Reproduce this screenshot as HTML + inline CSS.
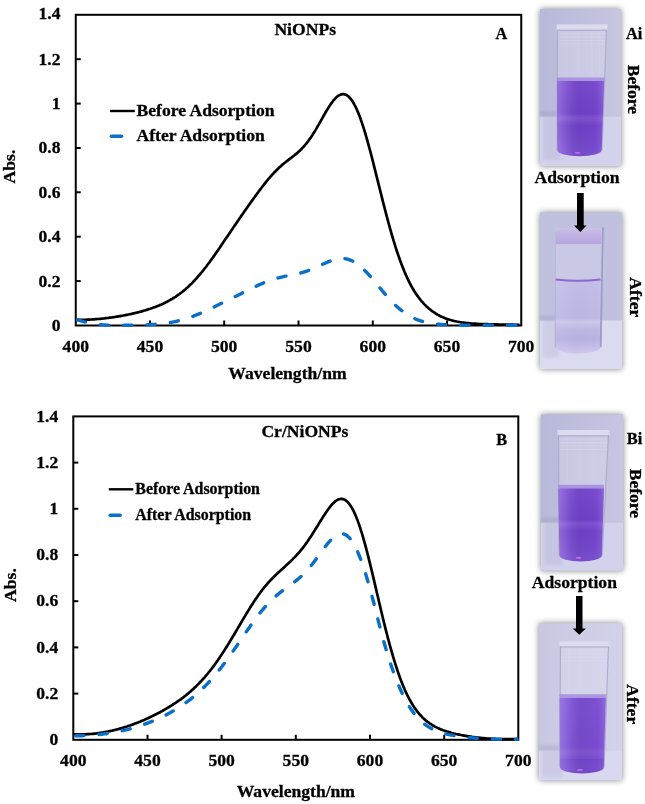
<!DOCTYPE html>
<html><head><meta charset="utf-8"><style>
html,body{margin:0;padding:0;background:#fff;width:645px;height:804px;overflow:hidden}
svg{display:block;will-change:transform}
text{font-family:"Liberation Serif",serif;font-weight:bold;fill:#000;stroke:#000;stroke-width:0.3px}
</style></head><body>
<svg width="645" height="804" viewBox="0 0 645 804">
<defs>
<filter id="sh" x="-30%" y="-30%" width="160%" height="160%"><feGaussianBlur stdDeviation="3"/></filter>
<linearGradient id="bandg" x1="0" x2="0" y1="0" y2="1"><stop offset="0" stop-color="#cabee8"/><stop offset="0.4" stop-color="#c0b2e2"/><stop offset="1" stop-color="#b6a6de"/></linearGradient>
<filter id="b1" x="-30%" y="-30%" width="160%" height="160%"><feGaussianBlur stdDeviation="1.5"/></filter>
<linearGradient id="lh" x1="0" x2="1" y1="0" y2="0"><stop offset="0" stop-color="#fff" stop-opacity="0.22"/><stop offset="0.2" stop-color="#fff" stop-opacity="0.08"/><stop offset="0.45" stop-color="#000" stop-opacity="0.05"/><stop offset="0.75" stop-color="#000" stop-opacity="0.02"/><stop offset="0.92" stop-color="#fff" stop-opacity="0.06"/><stop offset="1" stop-color="#fff" stop-opacity="0.15"/></linearGradient>
</defs>
<rect x="75.75" y="14.8" width="445.5" height="310.7" fill="none" stroke="#000" stroke-width="2"/>
<line x1="75.75" y1="281.1" x2="80.75" y2="281.1" stroke="#000" stroke-width="2"/>
<line x1="75.75" y1="236.7" x2="80.75" y2="236.7" stroke="#000" stroke-width="2"/>
<line x1="75.75" y1="192.3" x2="80.75" y2="192.3" stroke="#000" stroke-width="2"/>
<line x1="75.75" y1="148.0" x2="80.75" y2="148.0" stroke="#000" stroke-width="2"/>
<line x1="75.75" y1="103.6" x2="80.75" y2="103.6" stroke="#000" stroke-width="2"/>
<line x1="75.75" y1="59.2" x2="80.75" y2="59.2" stroke="#000" stroke-width="2"/>
<line x1="150.0" y1="325.5" x2="150.0" y2="320.5" stroke="#000" stroke-width="2"/>
<line x1="224.2" y1="325.5" x2="224.2" y2="320.5" stroke="#000" stroke-width="2"/>
<line x1="298.5" y1="325.5" x2="298.5" y2="320.5" stroke="#000" stroke-width="2"/>
<line x1="372.8" y1="325.5" x2="372.8" y2="320.5" stroke="#000" stroke-width="2"/>
<line x1="447.0" y1="325.5" x2="447.0" y2="320.5" stroke="#000" stroke-width="2"/>
<text x="60.5" y="331.0" text-anchor="end" font-size="17.6">0</text>
<text x="60.5" y="286.614" text-anchor="end" font-size="17.6">0.2</text>
<text x="60.5" y="242.228" text-anchor="end" font-size="17.6">0.4</text>
<text x="60.5" y="197.84199999999998" text-anchor="end" font-size="17.6">0.6</text>
<text x="60.5" y="153.456" text-anchor="end" font-size="17.6">0.8</text>
<text x="60.5" y="109.07" text-anchor="end" font-size="17.6">1</text>
<text x="60.5" y="64.68399999999997" text-anchor="end" font-size="17.6">1.2</text>
<text x="60.5" y="18.797999999999945" text-anchor="end" font-size="17.6">1.4</text>
<text x="75.8" y="351.5" text-anchor="middle" font-size="17.6">400</text>
<text x="150.0" y="351.5" text-anchor="middle" font-size="17.6">450</text>
<text x="224.2" y="351.5" text-anchor="middle" font-size="17.6">500</text>
<text x="298.5" y="351.5" text-anchor="middle" font-size="17.6">550</text>
<text x="372.8" y="351.5" text-anchor="middle" font-size="17.6">600</text>
<text x="447.0" y="351.5" text-anchor="middle" font-size="17.6">650</text>
<text x="521.2" y="351.5" text-anchor="middle" font-size="17.6">700</text>
<text x="287.5" y="379.2" text-anchor="middle" font-size="17.6">Wavelength/nm</text>
<text transform="translate(14.9,166.5) rotate(-90)" text-anchor="middle" font-size="17.6">Abs.</text>
<text x="305.2" y="35" text-anchor="middle" font-size="17.6">NiONPs</text>
<text x="501.3" y="39" text-anchor="middle" font-size="16.3">A</text>
<line x1="110" y1="111" x2="134.8" y2="111" stroke="#000" stroke-width="2.4"/>
<line x1="111.5" y1="136.3" x2="121.5" y2="136.3" stroke="#0a70c8" stroke-width="3.6" stroke-linecap="round"/>
<text x="136.5" y="116" font-size="17.6">Before Adsorption</text>
<text x="136.5" y="141" font-size="17.6">After Adsorption</text>
<polyline points="76.5,319.9 77.5,319.9 78.5,319.9 79.5,319.9 80.5,319.9 81.5,319.9 82.5,319.9 83.5,319.8 84.5,319.8 85.5,319.8 86.5,319.7 87.5,319.7 88.5,319.6 89.5,319.6 90.5,319.5 91.5,319.5 92.5,319.4 93.5,319.4 94.5,319.3 95.5,319.2 96.5,319.1 97.5,319.0 98.5,319.0 99.5,318.9 100.5,318.8 101.5,318.7 102.5,318.6 103.5,318.5 104.5,318.4 105.5,318.2 106.5,318.1 107.5,318.0 108.5,317.9 109.5,317.7 110.5,317.6 111.5,317.5 112.5,317.3 113.5,317.2 114.5,317.0 115.5,316.9 116.5,316.7 117.5,316.6 118.5,316.4 119.5,316.2 120.5,316.1 121.5,315.9 122.5,315.7 123.5,315.5 124.5,315.3 125.5,315.1 126.5,314.9 127.5,314.7 128.5,314.5 129.5,314.3 130.5,314.1 131.5,313.9 132.5,313.6 133.5,313.4 134.5,313.2 135.5,312.9 136.5,312.7 137.5,312.4 138.5,312.2 139.5,311.9 140.5,311.7 141.5,311.4 142.5,311.1 143.5,310.8 144.5,310.5 145.5,310.2 146.5,309.9 147.5,309.6 148.5,309.3 149.5,309.0 150.5,308.7 151.5,308.3 152.5,308.0 153.5,307.6 154.5,307.2 155.5,306.9 156.5,306.5 157.5,306.1 158.5,305.7 159.5,305.3 160.5,304.8 161.5,304.4 162.5,303.9 163.5,303.5 164.5,303.0 165.5,302.5 166.5,302.0 167.5,301.5 168.5,300.9 169.5,300.4 170.5,299.8 171.5,299.3 172.5,298.7 173.5,298.0 174.5,297.4 175.5,296.8 176.5,296.1 177.5,295.4 178.5,294.7 179.5,294.0 180.5,293.2 181.5,292.5 182.5,291.7 183.5,290.9 184.5,290.0 185.5,289.2 186.5,288.3 187.5,287.4 188.5,286.5 189.5,285.5 190.5,284.6 191.5,283.6 192.5,282.6 193.5,281.5 194.5,280.5 195.5,279.4 196.5,278.3 197.5,277.2 198.5,276.0 199.5,274.9 200.5,273.7 201.5,272.5 202.5,271.3 203.5,270.0 204.5,268.7 205.5,267.5 206.5,266.2 207.5,264.8 208.5,263.5 209.5,262.2 210.5,260.8 211.5,259.4 212.5,258.0 213.5,256.6 214.5,255.2 215.5,253.8 216.5,252.3 217.5,250.9 218.5,249.4 219.5,248.0 220.5,246.5 221.5,245.0 222.5,243.6 223.5,242.1 224.5,240.6 225.5,239.1 226.5,237.6 227.5,236.2 228.5,234.7 229.5,233.2 230.5,231.7 231.5,230.2 232.5,228.8 233.5,227.3 234.5,225.8 235.5,224.4 236.5,222.9 237.5,221.4 238.5,220.0 239.5,218.5 240.5,217.1 241.5,215.6 242.5,214.2 243.5,212.8 244.5,211.3 245.5,209.9 246.5,208.5 247.5,207.1 248.5,205.6 249.5,204.2 250.5,202.8 251.5,201.4 252.5,200.0 253.5,198.6 254.5,197.3 255.5,195.9 256.5,194.5 257.5,193.1 258.5,191.8 259.5,190.4 260.5,189.1 261.5,187.8 262.5,186.5 263.5,185.2 264.5,183.9 265.5,182.6 266.5,181.4 267.5,180.2 268.5,178.9 269.5,177.8 270.5,176.6 271.5,175.5 272.5,174.4 273.5,173.3 274.5,172.2 275.5,171.2 276.5,170.2 277.5,169.2 278.5,168.2 279.5,167.3 280.5,166.4 281.5,165.5 282.5,164.6 283.5,163.8 284.5,163.0 285.5,162.2 286.5,161.4 287.5,160.6 288.5,159.9 289.5,159.1 290.5,158.3 291.5,157.6 292.5,156.8 293.5,156.0 294.5,155.2 295.5,154.4 296.5,153.6 297.5,152.7 298.5,151.8 299.5,150.9 300.5,150.0 301.5,149.0 302.5,147.9 303.5,146.8 304.5,145.7 305.5,144.5 306.5,143.3 307.5,142.0 308.5,140.7 309.5,139.3 310.5,137.9 311.5,136.4 312.5,134.9 313.5,133.3 314.5,131.7 315.5,130.1 316.5,128.4 317.5,126.6 318.5,124.9 319.5,123.1 320.5,121.4 321.5,119.6 322.5,117.8 323.5,116.0 324.5,114.3 325.5,112.5 326.5,110.8 327.5,109.2 328.5,107.6 329.5,106.0 330.5,104.5 331.5,103.1 332.5,101.7 333.5,100.4 334.5,99.3 335.5,98.2 336.5,97.3 337.5,96.4 338.5,95.7 339.5,95.1 340.5,94.7 341.5,94.4 342.5,94.2 343.5,94.2 344.5,94.3 345.5,94.6 346.5,95.1 347.5,95.7 348.5,96.5 349.5,97.5 350.5,98.6 351.5,99.9 352.5,101.3 353.5,103.0 354.5,104.8 355.5,106.7 356.5,108.8 357.5,111.1 358.5,113.5 359.5,116.1 360.5,118.8 361.5,121.6 362.5,124.6 363.5,127.7 364.5,130.9 365.5,134.2 366.5,137.6 367.5,141.2 368.5,144.8 369.5,148.5 370.5,152.2 371.5,156.0 372.5,159.9 373.5,163.8 374.5,167.8 375.5,171.8 376.5,175.8 377.5,179.8 378.5,183.8 379.5,187.9 380.5,191.9 381.5,195.9 382.5,199.9 383.5,203.8 384.5,207.7 385.5,211.6 386.5,215.4 387.5,219.2 388.5,222.9 389.5,226.5 390.5,230.1 391.5,233.6 392.5,237.0 393.5,240.4 394.5,243.7 395.5,246.9 396.5,250.0 397.5,253.0 398.5,255.9 399.5,258.8 400.5,261.6 401.5,264.2 402.5,266.8 403.5,269.3 404.5,271.8 405.5,274.1 406.5,276.3 407.5,278.5 408.5,280.6 409.5,282.6 410.5,284.5 411.5,286.4 412.5,288.1 413.5,289.8 414.5,291.5 415.5,293.0 416.5,294.5 417.5,295.9 418.5,297.3 419.5,298.6 420.5,299.9 421.5,301.1 422.5,302.2 423.5,303.3 424.5,304.4 425.5,305.4 426.5,306.4 427.5,307.3 428.5,308.2 429.5,309.0 430.5,309.8 431.5,310.6 432.5,311.3 433.5,312.0 434.5,312.7 435.5,313.4 436.5,314.0 437.5,314.6 438.5,315.1 439.5,315.7 440.5,316.2 441.5,316.7 442.5,317.1 443.5,317.6 444.5,318.0 445.5,318.4 446.5,318.7 447.5,319.1 448.5,319.4 449.5,319.7 450.5,320.0 451.5,320.3 452.5,320.6 453.5,320.8 454.5,321.1 455.5,321.3 456.5,321.5 457.5,321.7 458.5,321.9 459.5,322.0 460.5,322.2 461.5,322.4 462.5,322.5 463.5,322.6 464.5,322.8 465.5,322.9 466.5,323.0 467.5,323.1 468.5,323.2 469.5,323.3 470.5,323.4 471.5,323.5 472.5,323.5 473.5,323.6 474.5,323.7 475.5,323.7 476.5,323.8 477.5,323.9 478.5,323.9 479.5,324.0 480.5,324.0 481.5,324.0 482.5,324.1 483.5,324.1 484.5,324.2 485.5,324.2 486.5,324.2 487.5,324.2 488.5,324.3 489.5,324.3 490.5,324.3 491.5,324.3 492.5,324.4 493.5,324.4 494.5,324.4 495.5,324.4 496.5,324.4 497.5,324.4 498.5,324.5 499.5,324.5 500.5,324.5 501.5,324.5 502.5,324.5 503.5,324.5 504.5,324.6 505.5,324.6 506.5,324.6 507.5,324.6 508.5,324.6 509.5,324.6 510.5,324.7 511.5,324.7 512.5,324.7 513.5,324.7 514.5,324.8 515.5,324.8 516.5,324.8 517.5,324.9 518.5,324.9 519.5,324.9" fill="none" stroke="#000" stroke-width="2.7"/>
<polyline points="76.5,319.6 77.5,319.8 78.5,320.1 79.5,320.4 80.5,320.7 81.5,321.0 82.5,321.3 83.5,321.6 84.5,321.8 85.5,322.1 86.5,322.4 87.5,322.6 88.5,322.9 89.5,323.1 90.5,323.3 91.5,323.5 92.5,323.7 93.5,323.9 94.5,324.0 95.5,324.2 96.5,324.3 97.5,324.4 98.5,324.5 99.5,324.6 100.5,324.7 101.5,324.8 102.5,324.9 103.5,324.9 104.5,325.0 105.5,325.0 106.5,325.1 107.5,325.1 108.5,325.1 109.5,325.1 110.5,325.2 111.5,325.2 112.5,325.2 113.5,325.2 114.5,325.2 115.5,325.2 116.5,325.2 117.5,325.2 118.5,325.2 119.5,325.2 120.5,325.2 121.5,325.2 122.5,325.2 123.5,325.2 124.5,325.2 125.5,325.2 126.5,325.2 127.5,325.2 128.5,325.2 129.5,325.2 130.5,325.2 131.5,325.2 132.5,325.1 133.5,325.1 134.5,325.1 135.5,325.1 136.5,325.1 137.5,325.1 138.5,325.0 139.5,325.0 140.5,325.0 141.5,325.0 142.5,324.9 143.5,324.9 144.5,324.9 145.5,324.8 146.5,324.8 147.5,324.8 148.5,324.7 149.5,324.7 150.5,324.6 151.5,324.5 152.5,324.5 153.5,324.4 154.5,324.4 155.5,324.3 156.5,324.2 157.5,324.1 158.5,324.0 159.5,323.9 160.5,323.8 161.5,323.7 162.5,323.6 163.5,323.5 164.5,323.4 165.5,323.2 166.5,323.1 167.5,322.9 168.5,322.8 169.5,322.6 170.5,322.5 171.5,322.3 172.5,322.1 173.5,321.9 174.5,321.7 175.5,321.5 176.5,321.3 177.5,321.0 178.5,320.8 179.5,320.5 180.5,320.3 181.5,320.0 182.5,319.7 183.5,319.4 184.5,319.1 185.5,318.8 186.5,318.5 187.5,318.2 188.5,317.9 189.5,317.5 190.5,317.2 191.5,316.8 192.5,316.4 193.5,316.1 194.5,315.7 195.5,315.3 196.5,314.9 197.5,314.5 198.5,314.1 199.5,313.7 200.5,313.2 201.5,312.8 202.5,312.4 203.5,311.9 204.5,311.5 205.5,311.0 206.5,310.6 207.5,310.1 208.5,309.6 209.5,309.2 210.5,308.7 211.5,308.2 212.5,307.7 213.5,307.3 214.5,306.8 215.5,306.3 216.5,305.8 217.5,305.3 218.5,304.8 219.5,304.3 220.5,303.8 221.5,303.3 222.5,302.9 223.5,302.4 224.5,301.9 225.5,301.4 226.5,300.9 227.5,300.4 228.5,299.9 229.5,299.4 230.5,298.9 231.5,298.4 232.5,297.9 233.5,297.4 234.5,296.9 235.5,296.4 236.5,295.9 237.5,295.4 238.5,294.9 239.5,294.4 240.5,293.9 241.5,293.4 242.5,292.9 243.5,292.4 244.5,291.9 245.5,291.4 246.5,290.9 247.5,290.4 248.5,289.9 249.5,289.4 250.5,288.9 251.5,288.4 252.5,287.9 253.5,287.5 254.5,287.0 255.5,286.5 256.5,286.0 257.5,285.6 258.5,285.1 259.5,284.7 260.5,284.2 261.5,283.8 262.5,283.4 263.5,282.9 264.5,282.5 265.5,282.1 266.5,281.7 267.5,281.4 268.5,281.0 269.5,280.6 270.5,280.3 271.5,279.9 272.5,279.6 273.5,279.3 274.5,279.0 275.5,278.7 276.5,278.4 277.5,278.1 278.5,277.8 279.5,277.6 280.5,277.3 281.5,277.1 282.5,276.9 283.5,276.6 284.5,276.4 285.5,276.2 286.5,276.0 287.5,275.8 288.5,275.6 289.5,275.4 290.5,275.2 291.5,275.0 292.5,274.8 293.5,274.6 294.5,274.4 295.5,274.1 296.5,273.9 297.5,273.7 298.5,273.5 299.5,273.2 300.5,273.0 301.5,272.7 302.5,272.4 303.5,272.1 304.5,271.8 305.5,271.5 306.5,271.2 307.5,270.8 308.5,270.5 309.5,270.1 310.5,269.7 311.5,269.3 312.5,268.9 313.5,268.5 314.5,268.1 315.5,267.6 316.5,267.2 317.5,266.7 318.5,266.3 319.5,265.8 320.5,265.3 321.5,264.9 322.5,264.4 323.5,263.9 324.5,263.5 325.5,263.0 326.5,262.6 327.5,262.1 328.5,261.7 329.5,261.3 330.5,260.9 331.5,260.6 332.5,260.2 333.5,259.9 334.5,259.6 335.5,259.4 336.5,259.1 337.5,258.9 338.5,258.8 339.5,258.6 340.5,258.6 341.5,258.5 342.5,258.5 343.5,258.6 344.5,258.6 345.5,258.8 346.5,259.0 347.5,259.2 348.5,259.5 349.5,259.8 350.5,260.2 351.5,260.6 352.5,261.0 353.5,261.6 354.5,262.1 355.5,262.7 356.5,263.4 357.5,264.1 358.5,264.8 359.5,265.6 360.5,266.5 361.5,267.3 362.5,268.2 363.5,269.2 364.5,270.2 365.5,271.2 366.5,272.2 367.5,273.3 368.5,274.4 369.5,275.5 370.5,276.6 371.5,277.8 372.5,279.0 373.5,280.2 374.5,281.3 375.5,282.6 376.5,283.8 377.5,285.0 378.5,286.2 379.5,287.4 380.5,288.6 381.5,289.8 382.5,291.0 383.5,292.2 384.5,293.4 385.5,294.6 386.5,295.8 387.5,296.9 388.5,298.0 389.5,299.1 390.5,300.2 391.5,301.3 392.5,302.3 393.5,303.3 394.5,304.3 395.5,305.3 396.5,306.2 397.5,307.1 398.5,308.0 399.5,308.9 400.5,309.7 401.5,310.5 402.5,311.3 403.5,312.0 404.5,312.8 405.5,313.5 406.5,314.1 407.5,314.8 408.5,315.4 409.5,316.0 410.5,316.5 411.5,317.1 412.5,317.6 413.5,318.1 414.5,318.5 415.5,319.0 416.5,319.4 417.5,319.8 418.5,320.1 419.5,320.5 420.5,320.8 421.5,321.1 422.5,321.4 423.5,321.7 424.5,322.0 425.5,322.2 426.5,322.4 427.5,322.7 428.5,322.9 429.5,323.0 430.5,323.2 431.5,323.4 432.5,323.5 433.5,323.7 434.5,323.8 435.5,323.9 436.5,324.0 437.5,324.1 438.5,324.2 439.5,324.3 440.5,324.4 441.5,324.5 442.5,324.6 443.5,324.6 444.5,324.7 445.5,324.7 446.5,324.8 447.5,324.8 448.5,324.9 449.5,324.9 450.5,324.9 451.5,325.0 452.5,325.0 453.5,325.0 454.5,325.1 455.5,325.1 456.5,325.1 457.5,325.1 458.5,325.1 459.5,325.1 460.5,325.2 461.5,325.2 462.5,325.2 463.5,325.2 464.5,325.2 465.5,325.2 466.5,325.2 467.5,325.2 468.5,325.2 469.5,325.2 470.5,325.2 471.5,325.2 472.5,325.2 473.5,325.2 474.5,325.2 475.5,325.2 476.5,325.2 477.5,325.2 478.5,325.2 479.5,325.2 480.5,325.2 481.5,325.2 482.5,325.2 483.5,325.2 484.5,325.2 485.5,325.2 486.5,325.2 487.5,325.2 488.5,325.2 489.5,325.2 490.5,325.2 491.5,325.2 492.5,325.2 493.5,325.2 494.5,325.2 495.5,325.2 496.5,325.2 497.5,325.2 498.5,325.2 499.5,325.2 500.5,325.2 501.5,325.2 502.5,325.2 503.5,325.2 504.5,325.2 505.5,325.2 506.5,325.2 507.5,325.2 508.5,325.2 509.5,325.2 510.5,325.2 511.5,325.2 512.5,325.2 513.5,325.2 514.5,325.2 515.5,325.2 516.5,325.2 517.5,325.2 518.5,325.2 519.5,325.2" fill="none" stroke="#0a6fc9" stroke-width="3.4" stroke-dasharray="8.2 15.2" stroke-dashoffset="-1" stroke-linecap="round"/>
<rect x="73.3" y="416.4" width="444.99999999999994" height="323.4" fill="none" stroke="#000" stroke-width="2"/>
<line x1="73.3" y1="693.6" x2="78.3" y2="693.6" stroke="#000" stroke-width="2"/>
<line x1="73.3" y1="647.4" x2="78.3" y2="647.4" stroke="#000" stroke-width="2"/>
<line x1="73.3" y1="601.2" x2="78.3" y2="601.2" stroke="#000" stroke-width="2"/>
<line x1="73.3" y1="555.0" x2="78.3" y2="555.0" stroke="#000" stroke-width="2"/>
<line x1="73.3" y1="508.8" x2="78.3" y2="508.8" stroke="#000" stroke-width="2"/>
<line x1="73.3" y1="462.6" x2="78.3" y2="462.6" stroke="#000" stroke-width="2"/>
<line x1="147.5" y1="739.8" x2="147.5" y2="734.8" stroke="#000" stroke-width="2"/>
<line x1="221.6" y1="739.8" x2="221.6" y2="734.8" stroke="#000" stroke-width="2"/>
<line x1="295.8" y1="739.8" x2="295.8" y2="734.8" stroke="#000" stroke-width="2"/>
<line x1="370.0" y1="739.8" x2="370.0" y2="734.8" stroke="#000" stroke-width="2"/>
<line x1="444.2" y1="739.8" x2="444.2" y2="734.8" stroke="#000" stroke-width="2"/>
<text x="58.3" y="744.9999999999999" text-anchor="end" font-size="17.6">0</text>
<text x="58.3" y="698.7999999999998" text-anchor="end" font-size="17.6">0.2</text>
<text x="58.3" y="652.5999999999999" text-anchor="end" font-size="17.6">0.4</text>
<text x="58.3" y="606.3999999999999" text-anchor="end" font-size="17.6">0.6</text>
<text x="58.3" y="560.1999999999999" text-anchor="end" font-size="17.6">0.8</text>
<text x="58.3" y="513.9999999999999" text-anchor="end" font-size="17.6">1</text>
<text x="58.3" y="467.7999999999999" text-anchor="end" font-size="17.6">1.2</text>
<text x="58.3" y="421.5999999999999" text-anchor="end" font-size="17.6">1.4</text>
<text x="73.3" y="766.3" text-anchor="middle" font-size="17.6">400</text>
<text x="147.5" y="766.3" text-anchor="middle" font-size="17.6">450</text>
<text x="221.6" y="766.3" text-anchor="middle" font-size="17.6">500</text>
<text x="295.8" y="766.3" text-anchor="middle" font-size="17.6">550</text>
<text x="370.0" y="766.3" text-anchor="middle" font-size="17.6">600</text>
<text x="444.2" y="766.3" text-anchor="middle" font-size="17.6">650</text>
<text x="518.3" y="766.3" text-anchor="middle" font-size="17.6">700</text>
<text x="295.9" y="797.3" text-anchor="middle" font-size="17.6">Wavelength/nm</text>
<text transform="translate(16.4,585) rotate(-90)" text-anchor="middle" font-size="17.6">Abs.</text>
<text x="304.9" y="437.4" text-anchor="middle" font-size="17.6">Cr/NiONPs</text>
<text x="501.6" y="444.9" text-anchor="middle" font-size="16.3">B</text>
<line x1="108.8" y1="489.3" x2="133.3" y2="489.3" stroke="#000" stroke-width="2.4"/>
<line x1="110.2" y1="515.2" x2="120.2" y2="515.2" stroke="#0a70c8" stroke-width="3.4" stroke-linecap="round"/>
<text x="135.3" y="494.1" font-size="15.9">Before Adsorption</text>
<text x="135.3" y="520.1" font-size="15.9">After Adsorption</text>
<polyline points="74.0,734.3 75.0,734.3 76.0,734.4 77.0,734.4 78.0,734.4 79.0,734.4 80.0,734.4 81.0,734.4 82.0,734.4 83.0,734.4 84.0,734.4 85.0,734.3 86.0,734.3 87.0,734.2 88.0,734.2 89.0,734.1 90.0,734.0 91.0,734.0 92.0,733.9 93.0,733.8 94.0,733.7 95.0,733.6 96.0,733.5 97.0,733.3 98.0,733.2 99.0,733.1 100.0,732.9 101.0,732.8 102.0,732.6 103.0,732.5 104.0,732.3 105.0,732.1 106.0,731.9 107.0,731.7 108.0,731.5 109.0,731.3 110.0,731.1 111.0,730.9 112.0,730.7 113.0,730.4 114.0,730.2 115.0,729.9 116.0,729.7 117.0,729.4 118.0,729.2 119.0,728.9 120.0,728.6 121.0,728.3 122.0,728.0 123.0,727.7 124.0,727.4 125.0,727.1 126.0,726.8 127.0,726.5 128.0,726.1 129.0,725.8 130.0,725.5 131.0,725.1 132.0,724.7 133.0,724.4 134.0,724.0 135.0,723.6 136.0,723.2 137.0,722.9 138.0,722.5 139.0,722.1 140.0,721.7 141.0,721.2 142.0,720.8 143.0,720.4 144.0,720.0 145.0,719.5 146.0,719.1 147.0,718.6 148.0,718.2 149.0,717.7 150.0,717.2 151.0,716.7 152.0,716.3 153.0,715.8 154.0,715.3 155.0,714.8 156.0,714.3 157.0,713.7 158.0,713.2 159.0,712.7 160.0,712.2 161.0,711.6 162.0,711.1 163.0,710.5 164.0,710.0 165.0,709.4 166.0,708.8 167.0,708.2 168.0,707.6 169.0,707.0 170.0,706.4 171.0,705.8 172.0,705.2 173.0,704.5 174.0,703.9 175.0,703.2 176.0,702.6 177.0,701.9 178.0,701.2 179.0,700.5 180.0,699.8 181.0,699.1 182.0,698.3 183.0,697.6 184.0,696.8 185.0,696.0 186.0,695.2 187.0,694.4 188.0,693.6 189.0,692.7 190.0,691.9 191.0,691.0 192.0,690.1 193.0,689.2 194.0,688.3 195.0,687.3 196.0,686.4 197.0,685.4 198.0,684.4 199.0,683.4 200.0,682.3 201.0,681.3 202.0,680.2 203.0,679.1 204.0,678.0 205.0,676.8 206.0,675.7 207.0,674.5 208.0,673.3 209.0,672.0 210.0,670.8 211.0,669.5 212.0,668.2 213.0,666.9 214.0,665.6 215.0,664.2 216.0,662.8 217.0,661.4 218.0,660.0 219.0,658.5 220.0,657.0 221.0,655.6 222.0,654.0 223.0,652.5 224.0,651.0 225.0,649.4 226.0,647.8 227.0,646.2 228.0,644.6 229.0,643.0 230.0,641.3 231.0,639.7 232.0,638.0 233.0,636.3 234.0,634.7 235.0,633.0 236.0,631.3 237.0,629.6 238.0,627.9 239.0,626.2 240.0,624.5 241.0,622.8 242.0,621.1 243.0,619.4 244.0,617.7 245.0,616.1 246.0,614.4 247.0,612.7 248.0,611.1 249.0,609.5 250.0,607.9 251.0,606.3 252.0,604.7 253.0,603.2 254.0,601.6 255.0,600.1 256.0,598.6 257.0,597.2 258.0,595.7 259.0,594.3 260.0,593.0 261.0,591.6 262.0,590.3 263.0,589.0 264.0,587.7 265.0,586.5 266.0,585.3 267.0,584.1 268.0,583.0 269.0,581.9 270.0,580.8 271.0,579.7 272.0,578.7 273.0,577.7 274.0,576.7 275.0,575.7 276.0,574.7 277.0,573.8 278.0,572.8 279.0,571.9 280.0,571.0 281.0,570.1 282.0,569.2 283.0,568.3 284.0,567.4 285.0,566.5 286.0,565.6 287.0,564.6 288.0,563.7 289.0,562.8 290.0,561.8 291.0,560.9 292.0,559.9 293.0,558.9 294.0,557.9 295.0,556.9 296.0,555.8 297.0,554.7 298.0,553.6 299.0,552.5 300.0,551.3 301.0,550.1 302.0,548.9 303.0,547.6 304.0,546.3 305.0,545.0 306.0,543.6 307.0,542.2 308.0,540.8 309.0,539.3 310.0,537.8 311.0,536.3 312.0,534.7 313.0,533.1 314.0,531.6 315.0,529.9 316.0,528.3 317.0,526.7 318.0,525.1 319.0,523.4 320.0,521.8 321.0,520.2 322.0,518.6 323.0,517.0 324.0,515.4 325.0,513.9 326.0,512.4 327.0,510.9 328.0,509.5 329.0,508.2 330.0,506.9 331.0,505.6 332.0,504.5 333.0,503.4 334.0,502.5 335.0,501.6 336.0,500.8 337.0,500.2 338.0,499.6 339.0,499.3 340.0,499.0 341.0,498.9 342.0,498.9 343.0,499.1 344.0,499.4 345.0,499.9 346.0,500.6 347.0,501.4 348.0,502.4 349.0,503.5 350.0,504.9 351.0,506.4 352.0,508.0 353.0,509.9 354.0,511.9 355.0,514.1 356.0,516.4 357.0,518.9 358.0,521.6 359.0,524.4 360.0,527.4 361.0,530.5 362.0,533.7 363.0,537.1 364.0,540.6 365.0,544.2 366.0,547.9 367.0,551.7 368.0,555.6 369.0,559.6 370.0,563.6 371.0,567.7 372.0,571.9 373.0,576.1 374.0,580.3 375.0,584.6 376.0,588.9 377.0,593.2 378.0,597.4 379.0,601.7 380.0,605.9 381.0,610.2 382.0,614.3 383.0,618.5 384.0,622.6 385.0,626.6 386.0,630.6 387.0,634.5 388.0,638.3 389.0,642.1 390.0,645.8 391.0,649.4 392.0,652.9 393.0,656.4 394.0,659.7 395.0,662.9 396.0,666.1 397.0,669.2 398.0,672.1 399.0,675.0 400.0,677.8 401.0,680.4 402.0,683.0 403.0,685.5 404.0,687.9 405.0,690.2 406.0,692.4 407.0,694.5 408.0,696.5 409.0,698.4 410.0,700.3 411.0,702.0 412.0,703.7 413.0,705.4 414.0,706.9 415.0,708.4 416.0,709.8 417.0,711.1 418.0,712.4 419.0,713.6 420.0,714.8 421.0,715.8 422.0,716.9 423.0,717.9 424.0,718.8 425.0,719.7 426.0,720.6 427.0,721.4 428.0,722.2 429.0,722.9 430.0,723.6 431.0,724.2 432.0,724.9 433.0,725.5 434.0,726.0 435.0,726.6 436.0,727.1 437.0,727.6 438.0,728.1 439.0,728.5 440.0,729.0 441.0,729.4 442.0,729.8 443.0,730.2 444.0,730.5 445.0,730.9 446.0,731.2 447.0,731.5 448.0,731.8 449.0,732.1 450.0,732.4 451.0,732.7 452.0,733.0 453.0,733.2 454.0,733.5 455.0,733.7 456.0,734.0 457.0,734.2 458.0,734.4 459.0,734.6 460.0,734.8 461.0,735.0 462.0,735.2 463.0,735.4 464.0,735.6 465.0,735.8 466.0,735.9 467.0,736.1 468.0,736.3 469.0,736.4 470.0,736.6 471.0,736.7 472.0,736.9 473.0,737.0 474.0,737.1 475.0,737.3 476.0,737.4 477.0,737.5 478.0,737.6 479.0,737.7 480.0,737.8 481.0,737.9 482.0,738.0 483.0,738.1 484.0,738.2 485.0,738.3 486.0,738.4 487.0,738.5 488.0,738.5 489.0,738.6 490.0,738.7 491.0,738.7 492.0,738.8 493.0,738.8 494.0,738.9 495.0,738.9 496.0,739.0 497.0,739.0 498.0,739.0 499.0,739.1 500.0,739.1 501.0,739.1 502.0,739.1 503.0,739.1 504.0,739.2 505.0,739.2 506.0,739.2 507.0,739.2 508.0,739.2 509.0,739.2 510.0,739.1 511.0,739.1 512.0,739.1 513.0,739.1 514.0,739.0 515.0,739.0 516.0,739.0 517.0,738.9" fill="none" stroke="#000" stroke-width="2.7"/>
<polyline points="74.0,735.8 75.0,735.8 76.0,735.8 77.0,735.7 78.0,735.7 79.0,735.7 80.0,735.7 81.0,735.7 82.0,735.7 83.0,735.6 84.0,735.6 85.0,735.5 86.0,735.5 87.0,735.4 88.0,735.4 89.0,735.3 90.0,735.3 91.0,735.2 92.0,735.1 93.0,735.1 94.0,735.0 95.0,734.9 96.0,734.8 97.0,734.7 98.0,734.6 99.0,734.5 100.0,734.4 101.0,734.3 102.0,734.2 103.0,734.1 104.0,733.9 105.0,733.8 106.0,733.7 107.0,733.5 108.0,733.4 109.0,733.2 110.0,733.1 111.0,732.9 112.0,732.7 113.0,732.6 114.0,732.4 115.0,732.2 116.0,732.0 117.0,731.8 118.0,731.6 119.0,731.4 120.0,731.2 121.0,731.0 122.0,730.8 123.0,730.5 124.0,730.3 125.0,730.1 126.0,729.8 127.0,729.6 128.0,729.3 129.0,729.1 130.0,728.8 131.0,728.5 132.0,728.2 133.0,728.0 134.0,727.7 135.0,727.4 136.0,727.1 137.0,726.8 138.0,726.4 139.0,726.1 140.0,725.8 141.0,725.5 142.0,725.1 143.0,724.8 144.0,724.4 145.0,724.1 146.0,723.7 147.0,723.3 148.0,722.9 149.0,722.6 150.0,722.2 151.0,721.8 152.0,721.4 153.0,720.9 154.0,720.5 155.0,720.1 156.0,719.7 157.0,719.2 158.0,718.8 159.0,718.3 160.0,717.9 161.0,717.4 162.0,716.9 163.0,716.4 164.0,715.9 165.0,715.4 166.0,714.9 167.0,714.4 168.0,713.8 169.0,713.3 170.0,712.8 171.0,712.2 172.0,711.6 173.0,711.1 174.0,710.5 175.0,709.9 176.0,709.3 177.0,708.7 178.0,708.0 179.0,707.4 180.0,706.7 181.0,706.1 182.0,705.4 183.0,704.7 184.0,704.0 185.0,703.3 186.0,702.6 187.0,701.9 188.0,701.1 189.0,700.4 190.0,699.6 191.0,698.8 192.0,698.0 193.0,697.2 194.0,696.4 195.0,695.5 196.0,694.7 197.0,693.8 198.0,692.9 199.0,692.0 200.0,691.1 201.0,690.1 202.0,689.2 203.0,688.2 204.0,687.2 205.0,686.2 206.0,685.2 207.0,684.1 208.0,683.1 209.0,682.0 210.0,680.9 211.0,679.8 212.0,678.7 213.0,677.5 214.0,676.4 215.0,675.2 216.0,674.0 217.0,672.8 218.0,671.5 219.0,670.3 220.0,669.0 221.0,667.8 222.0,666.5 223.0,665.1 224.0,663.8 225.0,662.5 226.0,661.1 227.0,659.8 228.0,658.4 229.0,657.0 230.0,655.6 231.0,654.2 232.0,652.7 233.0,651.3 234.0,649.9 235.0,648.4 236.0,646.9 237.0,645.5 238.0,644.0 239.0,642.5 240.0,641.1 241.0,639.6 242.0,638.1 243.0,636.6 244.0,635.2 245.0,633.7 246.0,632.2 247.0,630.8 248.0,629.3 249.0,627.9 250.0,626.5 251.0,625.0 252.0,623.6 253.0,622.2 254.0,620.8 255.0,619.5 256.0,618.1 257.0,616.8 258.0,615.5 259.0,614.2 260.0,612.9 261.0,611.7 262.0,610.5 263.0,609.3 264.0,608.1 265.0,607.0 266.0,605.8 267.0,604.7 268.0,603.7 269.0,602.6 270.0,601.6 271.0,600.6 272.0,599.6 273.0,598.7 274.0,597.8 275.0,596.9 276.0,596.0 277.0,595.1 278.0,594.3 279.0,593.5 280.0,592.7 281.0,591.9 282.0,591.1 283.0,590.4 284.0,589.6 285.0,588.9 286.0,588.2 287.0,587.4 288.0,586.7 289.0,586.0 290.0,585.3 291.0,584.5 292.0,583.8 293.0,583.0 294.0,582.3 295.0,581.5 296.0,580.7 297.0,579.9 298.0,579.1 299.0,578.2 300.0,577.4 301.0,576.5 302.0,575.5 303.0,574.6 304.0,573.6 305.0,572.5 306.0,571.5 307.0,570.4 308.0,569.3 309.0,568.1 310.0,566.9 311.0,565.7 312.0,564.5 313.0,563.2 314.0,561.9 315.0,560.6 316.0,559.3 317.0,557.9 318.0,556.5 319.0,555.2 320.0,553.8 321.0,552.4 322.0,551.0 323.0,549.6 324.0,548.3 325.0,547.0 326.0,545.7 327.0,544.4 328.0,543.2 329.0,542.0 330.0,540.9 331.0,539.8 332.0,538.8 333.0,537.9 334.0,537.0 335.0,536.2 336.0,535.6 337.0,535.0 338.0,534.5 339.0,534.1 340.0,533.9 341.0,533.8 342.0,533.7 343.0,533.9 344.0,534.1 345.0,534.5 346.0,535.0 347.0,535.7 348.0,536.5 349.0,537.4 350.0,538.5 351.0,539.8 352.0,541.2 353.0,542.7 354.0,544.4 355.0,546.3 356.0,548.2 357.0,550.4 358.0,552.6 359.0,555.0 360.0,557.5 361.0,560.2 362.0,563.0 363.0,565.9 364.0,568.8 365.0,571.9 366.0,575.1 367.0,578.4 368.0,581.8 369.0,585.3 370.0,588.8 371.0,592.4 372.0,596.2 373.0,600.0 374.0,603.8 375.0,607.8 376.0,611.7 377.0,615.7 378.0,619.7 379.0,623.6 380.0,627.5 381.0,631.3 382.0,635.0 383.0,638.7 384.0,642.3 385.0,645.8 386.0,649.2 387.0,652.6 388.0,655.8 389.0,659.0 390.0,662.1 391.0,665.1 392.0,668.0 393.0,670.8 394.0,673.6 395.0,676.3 396.0,678.9 397.0,681.4 398.0,683.8 399.0,686.2 400.0,688.5 401.0,690.8 402.0,692.9 403.0,695.0 404.0,697.0 405.0,699.0 406.0,700.9 407.0,702.7 408.0,704.4 409.0,706.1 410.0,707.7 411.0,709.2 412.0,710.6 413.0,712.0 414.0,713.4 415.0,714.7 416.0,715.9 417.0,717.0 418.0,718.1 419.0,719.2 420.0,720.2 421.0,721.1 422.0,722.0 423.0,722.9 424.0,723.7 425.0,724.5 426.0,725.2 427.0,725.9 428.0,726.5 429.0,727.1 430.0,727.7 431.0,728.3 432.0,728.8 433.0,729.3 434.0,729.8 435.0,730.2 436.0,730.6 437.0,731.0 438.0,731.4 439.0,731.8 440.0,732.1 441.0,732.5 442.0,732.8 443.0,733.1 444.0,733.4 445.0,733.6 446.0,733.9 447.0,734.1 448.0,734.4 449.0,734.6 450.0,734.8 451.0,735.0 452.0,735.2 453.0,735.4 454.0,735.6 455.0,735.8 456.0,735.9 457.0,736.1 458.0,736.2 459.0,736.4 460.0,736.5 461.0,736.7 462.0,736.8 463.0,736.9 464.0,737.1 465.0,737.2 466.0,737.3 467.0,737.4 468.0,737.5 469.0,737.6 470.0,737.7 471.0,737.8 472.0,737.9 473.0,737.9 474.0,738.0 475.0,738.1 476.0,738.2 477.0,738.2 478.0,738.3 479.0,738.4 480.0,738.4 481.0,738.5 482.0,738.6 483.0,738.6 484.0,738.7 485.0,738.7 486.0,738.8 487.0,738.8 488.0,738.8 489.0,738.9 490.0,738.9 491.0,738.9 492.0,739.0 493.0,739.0 494.0,739.0 495.0,739.0 496.0,739.1 497.0,739.1 498.0,739.1 499.0,739.1 500.0,739.1 501.0,739.2 502.0,739.2 503.0,739.2 504.0,739.2 505.0,739.2 506.0,739.2 507.0,739.2 508.0,739.2 509.0,739.2 510.0,739.2 511.0,739.2 512.0,739.2 513.0,739.2 514.0,739.2 515.0,739.2 516.0,739.2 517.0,739.2" fill="none" stroke="#0a6fc9" stroke-width="3.4" stroke-dasharray="8.2 15.2" stroke-dashoffset="-1.8" stroke-linecap="round"/>
<rect x="540" y="9" width="81" height="157" fill="#000" opacity="0.5" filter="url(#sh)"/>
<rect x="540" y="9" width="81" height="157" fill="#b8b8da"/>
<linearGradient id="wg1" x1="0" x2="1" y1="0" y2="0"><stop offset="0" stop-color="#c6c6e2" stop-opacity="0"/><stop offset="1" stop-color="#c6c6e2" stop-opacity="1"/></linearGradient>
<rect x="540" y="9" width="81" height="107.5" fill="url(#wg1)"/>
<rect x="540" y="116.5" width="81" height="49.5" fill="#d2d2ec"/>
<rect x="540" y="111.5" width="17.299999999999955" height="5" fill="#9090b8" opacity="0.3" filter="url(#b1)"/>
<rect x="543" y="116.5" width="17.299999999999955" height="43.80000000000001" fill="#9a9ac0" opacity="0.2" filter="url(#b1)"/>
<path d="M557.5,28.5 H606.5 L602.2,150.3 A22.200000000000045,6 0 0 1 556.8,150.3 Z" fill="#dcdbee" opacity="0.4"/>
<path d="M557.5,28.5 L557.0,150.3" stroke="#a8a6c8" stroke-width="1.2" opacity="0.8"/>
<path d="M606.5,28.5 L602.0,150.3" stroke="#a8a6c8" stroke-width="1.2" opacity="0.8"/>
<rect x="556.5" y="24.5" width="51.0" height="5.2" fill="#dcdcf0"/>
<rect x="557.5" y="29.7" width="49.0" height="1.2" fill="#a4a2c4" opacity="0.7"/>
<line x1="559.5" y1="33.5" x2="604.5" y2="33.5" stroke="#e4e2f0" stroke-width="0.9" opacity="0.3"/>
<line x1="559.5" y1="37.0" x2="604.5" y2="37.0" stroke="#e4e2f0" stroke-width="0.9" opacity="0.3"/>
<line x1="559.5" y1="40.5" x2="604.5" y2="40.5" stroke="#e4e2f0" stroke-width="0.9" opacity="0.3"/>
<line x1="559.5" y1="44.0" x2="604.5" y2="44.0" stroke="#e4e2f0" stroke-width="0.9" opacity="0.3"/>
<line x1="566.3" y1="31.5" x2="566.3" y2="77" stroke="#e0def0" stroke-width="1.2" opacity="0.14"/>
<line x1="578.1" y1="31.5" x2="578.1" y2="77" stroke="#e0def0" stroke-width="1.2" opacity="0.14"/>
<line x1="591.8" y1="31.5" x2="591.8" y2="77" stroke="#e0def0" stroke-width="1.2" opacity="0.14"/>
<line x1="599.6" y1="31.5" x2="599.6" y2="77" stroke="#e0def0" stroke-width="1.2" opacity="0.14"/>
<path d="M556.9,81 L604.2,81 L601.7,150.3 A22.200000000000045,6 0 0 1 557.3,150.3 Z" fill="url(#lv1)"/>
<path d="M556.9,81 L604.2,81 L601.7,150.3 A22.200000000000045,6 0 0 1 557.3,150.3 Z" fill="url(#lh)"/>
<rect x="556.9" y="77.5" width="47.30000000000007" height="3.5" fill="#a48ade" opacity="0.85"/>
<ellipse cx="577.5" cy="152.8" rx="3" ry="0.9" fill="#e080f0" opacity="0.7"/>
<linearGradient id="lv1" x1="0" x2="0" y1="0" y2="1"><stop offset="0" stop-color="#7b4bd2"/><stop offset="0.431" stop-color="#7143cb"/><stop offset="0.491" stop-color="#8254d4"/><stop offset="0.591" stop-color="#7143cb"/><stop offset="0.8" stop-color="#7648ce"/><stop offset="1" stop-color="#7c50d4"/></linearGradient>
<rect x="540" y="212.5" width="82" height="156.5" fill="#000" opacity="0.5" filter="url(#sh)"/>
<rect x="540" y="212.5" width="82" height="156.5" fill="#c0c0df"/>
<rect x="540" y="320.5" width="82" height="48.5" fill="#dadaf0"/>
<rect x="540" y="315.5" width="15.700000000000045" height="5" fill="#9090b8" opacity="0.3" filter="url(#b1)"/>
<rect x="543" y="320.5" width="15.700000000000045" height="37.0" fill="#9a9ac0" opacity="0.2" filter="url(#b1)"/>
<path d="M555.5,231.5 H603.8 L601.0,347.5 A22.399999999999977,6 0 0 1 555.2,347.5 Z" fill="#dcdbee" opacity="0.4"/>
<path d="M555.5,231.5 L555.4000000000001,347.5" stroke="#a8a6c8" stroke-width="1.2" opacity="0.8"/>
<path d="M603.8,231.5 L600.8,347.5" stroke="#a8a6c8" stroke-width="1.2" opacity="0.8"/>
<path d="M555.5,280.5 L603.4,280.5 L600.5,347.5 A22.399999999999977,6 0 0 1 555.7,347.5 Z" fill="url(#lv2)"/>
<path d="M555.5,280.5 L603.4,280.5 L600.5,347.5 A22.399999999999977,6 0 0 1 555.7,347.5 Z" fill="url(#lh)" opacity="0.25"/>
<rect x="555.5" y="228.5" width="48.299999999999955" height="51.0" fill="#c9c9e5"/>
<rect x="556.0" y="229.0" width="45.299999999999955" height="15" fill="url(#bandg)"/>
<path d="M602.9,227.5 L600.7,346.5" stroke="#a09cc8" stroke-width="1.8"/>
<path d="M555.7,279.5 Q578.1,282.0 600.5,279.5" stroke="#8a68d0" stroke-width="1.8" fill="none"/>
<linearGradient id="lv2" x1="0" x2="0" y1="0" y2="1"><stop offset="0" stop-color="#c4bfe8"/><stop offset="0.508" stop-color="#beb9e4"/><stop offset="0.568" stop-color="#cdc8eb"/><stop offset="0.668" stop-color="#beb9e4"/><stop offset="0.8" stop-color="#b8b2e2"/><stop offset="1" stop-color="#d2c8f0"/></linearGradient>
<rect x="541" y="414.5" width="82" height="156.2" fill="#000" opacity="0.5" filter="url(#sh)"/>
<rect x="541" y="414.5" width="82" height="156.2" fill="#b8b8da"/>
<linearGradient id="wg3" x1="0" x2="1" y1="0" y2="0"><stop offset="0" stop-color="#c6c6e2" stop-opacity="0"/><stop offset="1" stop-color="#c6c6e2" stop-opacity="1"/></linearGradient>
<rect x="541" y="414.5" width="82" height="108.0" fill="url(#wg3)"/>
<rect x="541" y="522.5" width="82" height="48.200000000000045" fill="#d2d2ec"/>
<rect x="541" y="517.5" width="18.399999999999977" height="5" fill="#9090b8" opacity="0.3" filter="url(#b1)"/>
<rect x="544" y="522.5" width="18.399999999999977" height="42.89999999999998" fill="#9a9ac0" opacity="0.2" filter="url(#b1)"/>
<path d="M558.5,434 H608.5 L602.4,555.4 A21.25,6 0 0 1 558.9,555.4 Z" fill="#dcdbee" opacity="0.4"/>
<path d="M558.5,434 L559.1,555.4" stroke="#a8a6c8" stroke-width="1.2" opacity="0.8"/>
<path d="M608.5,434 L602.1999999999999,555.4" stroke="#a8a6c8" stroke-width="1.2" opacity="0.8"/>
<rect x="557.5" y="430" width="52.0" height="5.2" fill="#dcdcf0"/>
<rect x="558.5" y="435.2" width="50.0" height="1.2" fill="#a4a2c4" opacity="0.7"/>
<line x1="560.5" y1="439" x2="606.5" y2="439" stroke="#e4e2f0" stroke-width="0.9" opacity="0.3"/>
<line x1="560.5" y1="442.5" x2="606.5" y2="442.5" stroke="#e4e2f0" stroke-width="0.9" opacity="0.3"/>
<line x1="560.5" y1="446" x2="606.5" y2="446" stroke="#e4e2f0" stroke-width="0.9" opacity="0.3"/>
<line x1="560.5" y1="449.5" x2="606.5" y2="449.5" stroke="#e4e2f0" stroke-width="0.9" opacity="0.3"/>
<line x1="567.5" y1="437" x2="567.5" y2="484.3" stroke="#e0def0" stroke-width="1.2" opacity="0.14"/>
<line x1="579.5" y1="437" x2="579.5" y2="484.3" stroke="#e0def0" stroke-width="1.2" opacity="0.14"/>
<line x1="593.5" y1="437" x2="593.5" y2="484.3" stroke="#e0def0" stroke-width="1.2" opacity="0.14"/>
<line x1="601.5" y1="437" x2="601.5" y2="484.3" stroke="#e0def0" stroke-width="1.2" opacity="0.14"/>
<path d="M558.2,488.3 L604,488.3 L601.9,555.4 A21.25,6 0 0 1 559.4,555.4 Z" fill="url(#lv3)"/>
<path d="M558.2,488.3 L604,488.3 L601.9,555.4 A21.25,6 0 0 1 559.4,555.4 Z" fill="url(#lh)"/>
<rect x="558.2" y="484.8" width="45.799999999999955" height="3.5" fill="#a48ade" opacity="0.85"/>
<ellipse cx="578.65" cy="557.9" rx="3" ry="0.9" fill="#e080f0" opacity="0.7"/>
<linearGradient id="lv3" x1="0" x2="0" y1="0" y2="1"><stop offset="0" stop-color="#7b4bd2"/><stop offset="0.428" stop-color="#7143cb"/><stop offset="0.488" stop-color="#8254d4"/><stop offset="0.588" stop-color="#7143cb"/><stop offset="0.8" stop-color="#7648ce"/><stop offset="1" stop-color="#7c50d4"/></linearGradient>
<rect x="539" y="623.3" width="83" height="156.8" fill="#000" opacity="0.5" filter="url(#sh)"/>
<rect x="539" y="623.3" width="83" height="156.8" fill="#c8c8e4"/>
<linearGradient id="wg4" x1="0" x2="1" y1="0" y2="0"><stop offset="0" stop-color="#d2d2ea" stop-opacity="0"/><stop offset="1" stop-color="#d2d2ea" stop-opacity="1"/></linearGradient>
<rect x="539" y="623.3" width="83" height="127.10000000000002" fill="url(#wg4)"/>
<rect x="539" y="750.4" width="83" height="29.699999999999932" fill="#d8d8f0"/>
<rect x="539" y="745.4" width="21" height="5" fill="#9090b8" opacity="0.3" filter="url(#b1)"/>
<rect x="542" y="750.4" width="21" height="27.100000000000023" fill="#9a9ac0" opacity="0.2" filter="url(#b1)"/>
<path d="M560.5,645.2 H608.5 L604.3,767.5 A21.899999999999977,6 0 0 1 559.5,767.5 Z" fill="#dcdbee" opacity="0.4"/>
<path d="M560.5,645.2 L559.7,767.5" stroke="#a8a6c8" stroke-width="1.2" opacity="0.8"/>
<path d="M608.5,645.2 L604.0999999999999,767.5" stroke="#a8a6c8" stroke-width="1.2" opacity="0.8"/>
<rect x="559.5" y="641.2" width="50.0" height="5.2" fill="#dcdcf0"/>
<rect x="560.5" y="646.4000000000001" width="48.0" height="1.2" fill="#a4a2c4" opacity="0.7"/>
<line x1="562.5" y1="650.2" x2="606.5" y2="650.2" stroke="#e4e2f0" stroke-width="0.9" opacity="0.3"/>
<line x1="562.5" y1="653.7" x2="606.5" y2="653.7" stroke="#e4e2f0" stroke-width="0.9" opacity="0.3"/>
<line x1="562.5" y1="657.2" x2="606.5" y2="657.2" stroke="#e4e2f0" stroke-width="0.9" opacity="0.3"/>
<line x1="562.5" y1="660.7" x2="606.5" y2="660.7" stroke="#e4e2f0" stroke-width="0.9" opacity="0.3"/>
<line x1="569.1" y1="648.2" x2="569.1" y2="693.8" stroke="#e0def0" stroke-width="1.2" opacity="0.14"/>
<line x1="580.7" y1="648.2" x2="580.7" y2="693.8" stroke="#e0def0" stroke-width="1.2" opacity="0.14"/>
<line x1="594.1" y1="648.2" x2="594.1" y2="693.8" stroke="#e0def0" stroke-width="1.2" opacity="0.14"/>
<line x1="601.8" y1="648.2" x2="601.8" y2="693.8" stroke="#e0def0" stroke-width="1.2" opacity="0.14"/>
<path d="M559.5,697.8 L605.9,697.8 L603.8,767.5 A21.899999999999977,6 0 0 1 560,767.5 Z" fill="url(#lv4)"/>
<path d="M559.5,697.8 L605.9,697.8 L603.8,767.5 A21.899999999999977,6 0 0 1 560,767.5 Z" fill="url(#lh)"/>
<rect x="559.5" y="694.3" width="46.39999999999998" height="3.5" fill="#a48ade" opacity="0.85"/>
<ellipse cx="579.9" cy="770.0" rx="3" ry="0.9" fill="#e080f0" opacity="0.7"/>
<linearGradient id="lv4" x1="0" x2="0" y1="0" y2="1"><stop offset="0" stop-color="#7e52d6"/><stop offset="0.655" stop-color="#7a4cd2"/><stop offset="0.715" stop-color="#8458d6"/><stop offset="0.815" stop-color="#7a4cd2"/><stop offset="0.8" stop-color="#7648ce"/><stop offset="1" stop-color="#7a4ed2"/></linearGradient>
<path d="M577,192.9 H583.7 V225.5 H586.5 L580.35,232 L574,225.5 H577 Z" fill="#000"/>
<path d="M576,596 H582.5 V628.4 H585.9 L579.25,634.7 L572.6,628.4 H576 Z" fill="#000"/>
<text x="577" y="183.3" text-anchor="middle" font-size="17.6">Adsorption</text>
<text x="574.4" y="587.7" text-anchor="middle" font-size="17.6">Adsorption</text>
<text x="626" y="38.7" font-size="16.4">Ai</text>
<text x="626.8" y="444.4" font-size="16.4">Bi</text>
<text transform="translate(628.2,89.4) rotate(90)" text-anchor="middle" font-size="17.6">Before</text>
<text transform="translate(629.5,493.4) rotate(90)" text-anchor="middle" font-size="17.6">Before</text>
<text transform="translate(630,297.3) rotate(90)" text-anchor="middle" font-size="17.6">After</text>
<text transform="translate(627.2,704.2) rotate(90)" text-anchor="middle" font-size="17.6">After</text>
</svg>
</body></html>
